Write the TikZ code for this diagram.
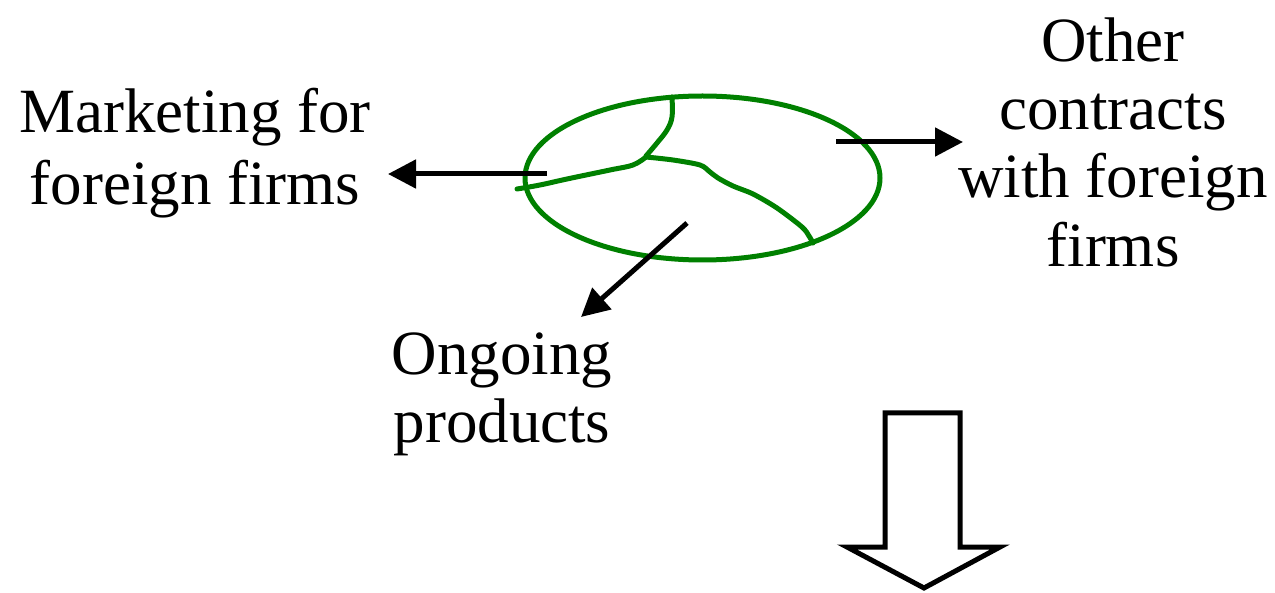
\documentclass[tikz,border=0pt]{standalone}
\usepackage{fontspec}
\setmainfont{Liberation Serif}
\usetikzlibrary{arrows.meta,shapes.geometric}
\tikzset{
  lbl/.style={inner sep=0pt, anchor=base, font=\fontsize{63}{72}\selectfont},
  conn/.style={line width=5pt, -{Triangle[length=28pt,width=28pt]}},
  part/.style={draw=ogreen, line width=5pt, line cap=round, line join=round},
  blockarrow/.style={draw=black, line width=5pt, fill=white, line join=miter}
}
\definecolor{ogreen}{RGB}{0,128,0}
\begin{document}
\begin{tikzpicture}[x=1pt,y=-1pt]
\useasboundingbox (0,0) rectangle (1275,593);
% labels
\node[lbl] (mk1) at (195,133) {Marketing for};
\node[lbl] (mk2) at (195,205) {foreign firms};
\node[lbl] (ot1) at (1113,62) {Other};
\node[lbl] (ot2) at (1113,130) {contracts};
\node[lbl] (ot3) at (1113,198) {with foreign};
\node[lbl] (ot4) at (1113,267) {firms};
\node[lbl] (og1) at (502,375) {Ongoing};
\node[lbl] (og2) at (502,443) {products};
% ellipse
\node[draw=ogreen, line width=5pt, ellipse, minimum width=355pt, minimum height=164pt, inner sep=0pt] (ell) at (702.5,178) {};
% partition curves
\draw[part] plot[smooth, tension=0.6] coordinates {(672,97) (672,117) (667,130) (657,143) (646,156)};
\draw[part] plot[smooth, tension=0.6] coordinates {(646,157) (633,165) (610,170) (567,179) (540,185) (517,189)};
\draw[part] plot[smooth, tension=0.5] coordinates {(646,157) (673,160) (700,165) (710,172) (718,178) (733,186) (753,194) (777,208) (802,227) (809,236) (813,243)};
% arrows
\coordinate (sL) at (547,174);
\coordinate (eL) at (388,174);
\coordinate (sR) at (836,142);
\coordinate (eR) at (963,142);
\coordinate (sD) at (687,223);
\coordinate (eD) at (581,317);
\draw[conn] (sL) -- (eL);
\draw[conn] (sR) -- (eR);
\draw[conn] (sD) -- (eD);
% block arrow
\draw[blockarrow] (885,413) -- (960,413) -- (960,547) -- (1000,547) -- (924,588) -- (847,547) -- (885,547) -- cycle;
\end{tikzpicture}
\end{document}
